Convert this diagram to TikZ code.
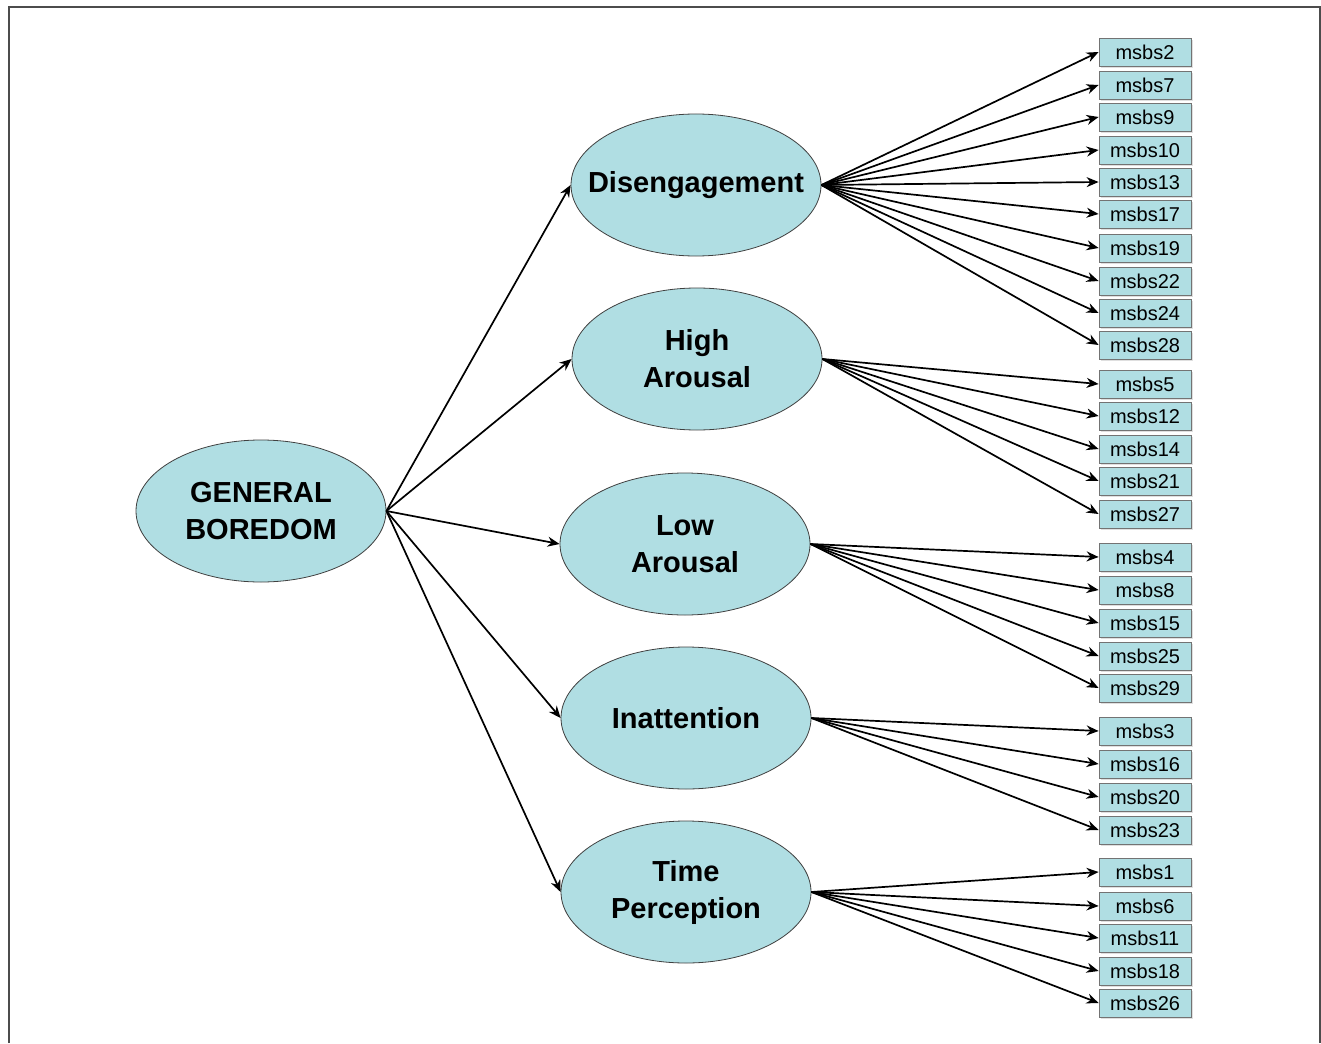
\documentclass[tikz,border=0pt]{standalone}
\usepackage{fontspec}
\setmainfont{Liberation Sans}
\usepackage{tikz}
\usetikzlibrary{shapes.geometric, arrows.meta, shadows}
\usepackage{xcolor}
\definecolor{factorfill}{HTML}{B0DEE3}

\begin{document}
\begin{tikzpicture}[x=0.5pt, y=-0.5pt,
    latent/.style={ellipse, draw=black!75, fill=factorfill, inner sep=0pt,
        minimum width=125pt, minimum height=71pt, align=center,
        font=\fontsize{14.5}{18.5}\selectfont\bfseries},
    item/.style={rectangle, draw=black!55, fill=factorfill, inner sep=0pt,
        minimum width=46pt, minimum height=14pt,
        drop shadow={shadow xshift=0.8pt, shadow yshift=-0.8pt, fill=black!25},
        font=\fontsize{10}{12}\selectfont},
    load/.style={-{Stealth[length=6pt, width=5pt]}, line width=0.85pt, black}]
    \useasboundingbox (0, 0) rectangle (1321, 1043);

    % Frame (open at the bottom)
    \draw[line width=1pt, black!70] (8.5, 1043) -- (8.5, 7) -- (1320, 7) -- (1320, 1043);

    % Second-order factor
    \node[latent] (gen) at (261, 511) {GENERAL\\BOREDOM};

    % First-order factors
    \node[latent, inner xsep=-10pt] (dis) at (696, 185) {Disengagement};
    \node[latent] (hia) at (697, 359) {High\\Arousal};
    \node[latent] (loa) at (685, 544) {Low\\Arousal};
    \node[latent] (ina) at (686, 718) {Inattention};
    \node[latent] (tim) at (686, 892) {Time\\Perception};

    % Items - Disengagement
    \node[item] (m2) at (1145, 52) {msbs2};
    \node[item] (m7) at (1145, 85) {msbs7};
    \node[item] (m9) at (1145, 117) {msbs9};
    \node[item] (m10) at (1145, 150) {msbs10};
    \node[item] (m13) at (1145, 182) {msbs13};
    \node[item] (m17) at (1145, 214) {msbs17};
    \node[item] (m19) at (1145, 248) {msbs19};
    \node[item] (m22) at (1145, 281) {msbs22};
    \node[item] (m24) at (1145, 313) {msbs24};
    \node[item] (m28) at (1145, 345) {msbs28};
    % Items - High Arousal
    \node[item] (m5) at (1145, 384) {msbs5};
    \node[item] (m12) at (1145, 416) {msbs12};
    \node[item] (m14) at (1145, 449) {msbs14};
    \node[item] (m21) at (1145, 481) {msbs21};
    \node[item] (m27) at (1145, 514) {msbs27};
    % Items - Low Arousal
    \node[item] (m4) at (1145, 557) {msbs4};
    \node[item] (m8) at (1145, 590) {msbs8};
    \node[item] (m15) at (1145, 623) {msbs15};
    \node[item] (m25) at (1145, 656) {msbs25};
    \node[item] (m29) at (1145, 688) {msbs29};
    % Items - Inattention
    \node[item] (m3) at (1145, 731) {msbs3};
    \node[item] (m16) at (1145, 764) {msbs16};
    \node[item] (m20) at (1145, 797) {msbs20};
    \node[item] (m23) at (1145, 830) {msbs23};
    % Items - Time Perception
    \node[item] (m1) at (1145, 872) {msbs1};
    \node[item] (m6) at (1145, 906) {msbs6};
    \node[item] (m11) at (1145, 938) {msbs11};
    \node[item] (m18) at (1145, 971) {msbs18};
    \node[item] (m26) at (1145, 1003) {msbs26};

    % Second-order loadings
    \draw[load] (gen.east) -- (dis.west);
    \draw[load] (gen.east) -- (hia.west);
    \draw[load] (gen.east) -- (loa.west);
    \draw[load] (gen.east) -- (ina.west);
    \draw[load] (gen.east) -- (tim.west);

    % Item loadings
    \foreach \m in {m2, m7, m9, m10, m13, m17, m19, m22, m24, m28}
        \draw[load] (dis.east) -- (\m.west);
    \foreach \m in {m5, m12, m14, m21, m27}
        \draw[load] (hia.east) -- (\m.west);
    \foreach \m in {m4, m8, m15, m25, m29}
        \draw[load] (loa.east) -- (\m.west);
    \foreach \m in {m3, m16, m20, m23}
        \draw[load] (ina.east) -- (\m.west);
    \foreach \m in {m1, m6, m11, m18, m26}
        \draw[load] (tim.east) -- (\m.west);
\end{tikzpicture}
\end{document}
